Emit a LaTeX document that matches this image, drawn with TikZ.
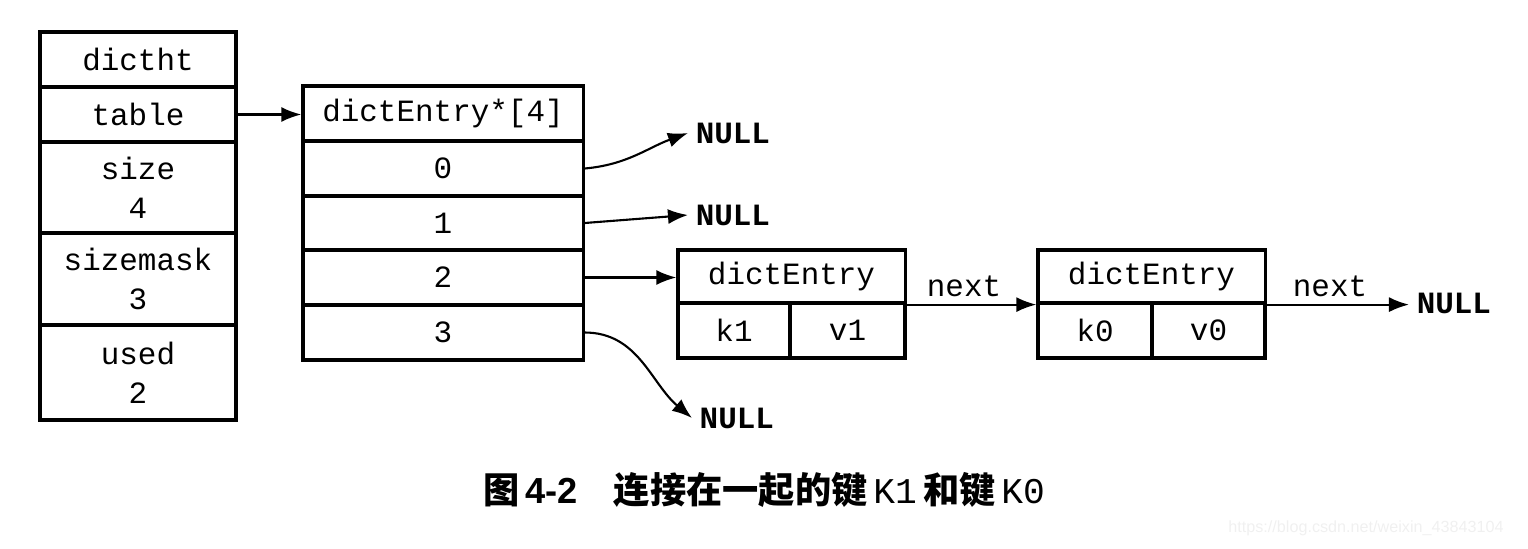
\documentclass[tikz,border=0pt]{standalone}
\usepackage{fontspec}
\setmainfont{Liberation Serif}
\setsansfont{Liberation Sans}
\setmonofont{Liberation Mono}
\newfontfamily\cjk{Noto Sans CJK SC}
\usetikzlibrary{positioning, calc, arrows.meta}

\begin{document}
\begin{tikzpicture}[>=Latex, x=0.01cm, y=-0.01cm,
	cell/.style={draw, line width=0.9pt, inner sep=0pt, align=center, font=\ttfamily\fontsize{8.8}{11}\selectfont},
	nul/.style={anchor=west, inner sep=0pt, inner xsep=2pt, font=\ttfamily\bfseries\fontsize{8.8}{11}\selectfont},
	ptr/.style={->, line width=0.6pt}]
	\useasboundingbox (0, 0) rectangle (1528, 548);
	% dictht
	\node[cell, minimum width=1.96cm, minimum height=0.55cm] (ht) at (138, 59.5) {dictht};
	\node[cell, minimum width=1.96cm, minimum height=0.55cm] (table) at (138, 114.5) {table};
	\node[cell, minimum width=1.96cm, minimum height=0.91cm] (size) at (138, 187.5) {size\\4};
	\node[cell, minimum width=1.96cm, minimum height=0.92cm] (mask) at (138, 279) {sizemask\\3};
	\node[cell, minimum width=1.96cm, minimum height=0.95cm] (used) at (138, 372.5) {used\\2};
	% table array
	\node[cell, minimum width=2.8cm, minimum height=0.55cm] (arr) at (443, 113.5) {dictEntry*[4]};
	\foreach \i/\y in {0/168.5, 1/223, 2/277.5, 3/332.5}
		\node[cell, minimum width=2.8cm, minimum height=0.55cm] (e\i) at (443, \y) {\i};
	% entries
	\node[cell, minimum width=2.27cm, minimum height=0.53cm] (d1) at (791.5, 276.5) {dictEntry};
	\node[cell, minimum width=1.12cm, minimum height=0.55cm] (k1) at (734, 330.5) {k1};
	\node[cell, minimum width=1.15cm, minimum height=0.55cm] (v1) at (847.5, 330.5) {v1};
	\node[cell, minimum width=2.27cm, minimum height=0.53cm] (d2) at (1151.5, 276.5) {dictEntry};
	\node[cell, minimum width=1.14cm, minimum height=0.55cm] (k0) at (1095, 330.5) {k0};
	\node[cell, minimum width=1.13cm, minimum height=0.55cm] (v0) at (1208.5, 330.5) {v0};
	% NULLs
	\node[nul] (n0) at (688, 133) {NULL};
	\node[nul] (n1) at (688, 215) {NULL};
	\node[nul] (n3) at (692, 418) {NULL};
	\node[nul] (n5) at (1409, 303) {NULL};
	\node[font=\ttfamily\fontsize{8.8}{11}\selectfont] (x1) at (964, 286) {next};
	\node[font=\ttfamily\fontsize{8.8}{11}\selectfont] (x2) at (1330, 286) {next};
	% pointers
	\draw[ptr] (table.east) -- (arr.west |- table.east);
	\draw[ptr] (e0.east) to[out=5, in=200] (n0.west);
	\draw[ptr] (e1.east) -- (n1.west);
	\draw[ptr] (e2.east) -- (d1.west |- e2.east);
	\draw[ptr] (e3.east) to[out=0, in=140] (n3.west);
	\draw[ptr] (d1.south east) -- (d2.south west);
	\draw[ptr] (d2.south east) -- (n5.west |- d2.south east);
	% caption
	\node[font=\fontsize{10.3}{12}\selectfont] (cap) at (764, 490)
		{{\cjk\bfseries 图}\,{\sffamily\bfseries 4-2}\quad{\cjk\bfseries 连接在一起的键}\,{\ttfamily K1}\,{\cjk\bfseries 和键}\,{\ttfamily K0}};
	\node[anchor=east, text=gray!12, font=\sffamily\fontsize{4.6}{6}\selectfont] (wm) at (1516, 528) {https://blog.csdn.net/weixin\_43843104};
\end{tikzpicture}
\end{document}
